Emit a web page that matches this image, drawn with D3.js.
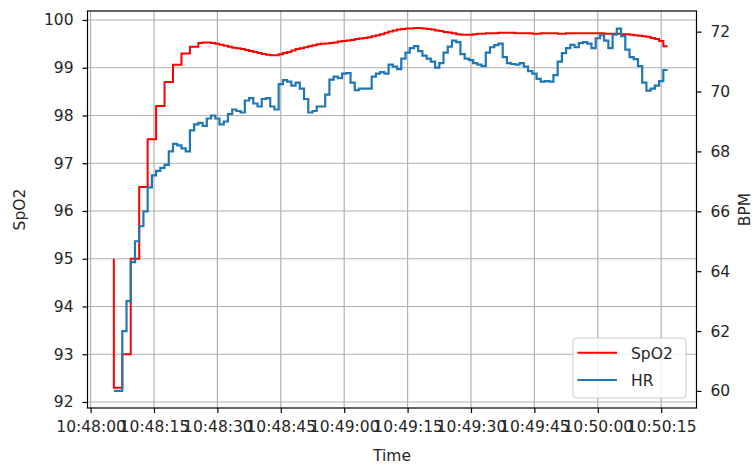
<!DOCTYPE html>
<html>
<head>
<meta charset="utf-8">
<script src="https://cdn.jsdelivr.net/npm/d3@7"></script>
<style>
  body { margin: 0; background: #fff; }
  svg { display: block; }
  text { font-family: "DejaVu Sans", sans-serif; }
</style>
</head>
<body>
<svg id="chart" width="755" height="466"></svg>
<script>
// Sample times, seconds after 10:48:00
const seconds = [
  5.5, 6.5, 7.5, 8.5, 9.5, 10.5, 11.5, 12.5, 13.5, 14.5,
  15.5, 16.5, 17.5, 18.5, 19.5, 20.5, 21.5, 22.5, 23.5, 24.5,
  25.5, 26.5, 27.5, 28.5, 29.5, 30.5, 31.5, 32.5, 33.5, 34.5,
  35.5, 36.5, 37.5, 38.5, 39.5, 40.5, 41.5, 42.5, 43.5, 44.5,
  45.5, 46.5, 47.5, 48.5, 49.5, 50.5, 51.5, 52.5, 53.5, 54.5,
  55.5, 56.5, 57.5, 58.5, 59.5, 60.5, 61.5, 62.5, 63.5, 64.5,
  65.5, 66.5, 67.5, 68.5, 69.5, 70.5, 71.5, 72.5, 73.5, 74.5,
  75.5, 76.5, 77.5, 78.5, 79.5, 80.5, 81.5, 82.5, 83.5, 84.5,
  85.5, 86.5, 87.5, 88.5, 89.5, 90.5, 91.5, 92.5, 93.5, 94.5,
  95.5, 96.5, 97.5, 98.5, 99.5, 100.5, 101.5, 102.5, 103.5, 104.5,
  105.5, 106.5, 107.5, 108.5, 109.5, 110.5, 111.5, 112.5, 113.5, 114.5,
  115.5, 116.5, 117.5, 118.5, 119.5, 120.5, 121.5, 122.5, 123.5, 124.5,
  125.5, 126.5, 127.5, 128.5, 129.5, 130.5, 131.5, 132.5, 133.5, 134.5,
  135.5, 136.5
];

// Oxygen saturation (%)
const spo2 = [
  95, 92.3, 92.3, 93, 93, 95, 95, 96.5, 96.5, 97.5,
  97.5, 98.2, 98.2, 98.7, 98.7, 99.06, 99.06, 99.3, 99.3, 99.44,
  99.44, 99.52, 99.53, 99.53, 99.52, 99.5, 99.48, 99.46, 99.44, 99.42,
  99.41, 99.39, 99.37, 99.35, 99.33, 99.31, 99.29, 99.27, 99.26, 99.26,
  99.28, 99.31, 99.33, 99.36, 99.39, 99.41, 99.43, 99.45, 99.47, 99.49,
  99.5, 99.51, 99.52, 99.53, 99.55, 99.56, 99.57, 99.58, 99.6, 99.61,
  99.62, 99.64, 99.66, 99.68, 99.7, 99.73, 99.76, 99.78, 99.8, 99.81,
  99.82, 99.82, 99.83, 99.83, 99.82, 99.81, 99.8, 99.78, 99.77, 99.75,
  99.74, 99.72, 99.7, 99.69, 99.69, 99.69, 99.7, 99.71, 99.71, 99.72,
  99.72, 99.72, 99.73, 99.73, 99.73, 99.73, 99.72, 99.72, 99.72, 99.72,
  99.71, 99.71, 99.72, 99.72, 99.72, 99.72, 99.71, 99.71, 99.72, 99.72,
  99.72, 99.72, 99.72, 99.72, 99.72, 99.72, 99.72, 99.71, 99.71, 99.71,
  99.71, 99.7, 99.7, 99.69, 99.68, 99.67, 99.66, 99.65, 99.62, 99.6,
  99.56, 99.45
];

// Heart rate (BPM)
const hr = [
  60, 60, 60, 62, 63, 64.3, 65, 65.5, 66, 66.8,
  67.2, 67.35, 67.45, 67.55, 68.0, 68.25, 68.2, 68.1, 68.0, 68.7,
  68.9, 68.95, 68.85, 69.1, 69.2, 69.1, 68.9, 69.0, 69.25, 69.4,
  69.35, 69.3, 69.7, 69.78, 69.6, 69.5, 69.75, 69.78, 69.5, 69.4,
  70.25, 70.38, 70.33, 70.2, 70.3, 70.1, 69.75, 69.3, 69.35, 69.5,
  69.5, 69.9, 70.4, 70.5, 70.45, 70.6, 70.62, 70.3, 70.05, 70.1,
  70.1, 70.1, 70.5, 70.6, 70.65, 70.6, 70.9, 70.83, 70.75, 71.1,
  71.3, 71.45, 71.52, 71.35, 71.2, 71.1, 71.0, 70.8, 70.95, 71.3,
  71.5, 71.7, 71.65, 71.25, 71.1, 71.05, 70.95, 70.9, 70.85, 71.3,
  71.48, 71.55, 71.6, 71.15, 70.95, 70.92, 70.9, 70.95, 70.83, 70.68,
  70.6, 70.42, 70.33, 70.35, 70.33, 70.55, 71.0, 71.28, 71.45, 71.56,
  71.48, 71.62, 71.65, 71.6, 71.45, 71.78, 71.88, 71.7, 71.45, 71.9,
  72.1, 71.85, 71.4, 71.15, 71.08, 70.85, 70.3, 70.03, 70.1, 70.2,
  70.35, 70.72
];

const timeTicks = ["10:48:00", "10:48:15", "10:48:30", "10:48:45", "10:49:00",
                   "10:49:15", "10:49:30", "10:49:45", "10:50:00", "10:50:15"];
const spo2Ticks = [92, 93, 94, 95, 96, 97, 98, 99, 100];
const hrTicks = [60, 62, 64, 66, 68, 70, 72];
const seriesNames = ["SpO2", "HR"];
const seriesColors = ["#ff0000", "#1f77b4"];

const parseTime = d3.timeParse("%H:%M:%S");
const start = parseTime(timeTicks[0]);
const at = s => new Date(start.getTime() + s * 1000);

const P = { left: 87.5, right: 696.5, top: 11, bottom: 408 };
const FONT = 15.5;
const INK = "#262626";

const svg = d3.select("#chart");

const x = d3.scaleTime().domain([at(-0.73), at(143.35)]).range([P.left, P.right]);
const yL = d3.scaleLinear().domain([91.874, 100.188]).range([P.bottom, P.top]);
const yR = d3.scaleLinear().domain([59.43, 72.69]).range([P.bottom, P.top]);

svg.append("defs").append("clipPath").attr("id", "plot")
  .append("rect").attr("x", P.left).attr("y", P.top)
  .attr("width", P.right - P.left).attr("height", P.bottom - P.top);

// grid
const grid = svg.append("g").attr("stroke", "#b0b0b0").attr("stroke-width", 1.2)
  .attr("clip-path", "url(#plot)");
grid.selectAll("line.v").data(timeTicks.map(parseTime)).join("line")
  .attr("class", "v")
  .attr("x1", d => x(d)).attr("x2", d => x(d))
  .attr("y1", P.top).attr("y2", P.bottom);
grid.selectAll("line.h").data(spo2Ticks).join("line")
  .attr("class", "h")
  .attr("x1", P.left).attr("x2", P.right)
  .attr("y1", d => yL(d)).attr("y2", d => yL(d));

// series
const rows = seconds.map((s, i) => ({ t: at(s), spo2: spo2[i], hr: hr[i] }));
const lines = svg.append("g").attr("clip-path", "url(#plot)").attr("fill", "none");
lines.append("path")
  .attr("d", d3.line().curve(d3.curveStepBefore).x(d => x(d.t)).y(d => yL(d.spo2))(rows))
  .attr("stroke", seriesColors[0]).attr("stroke-width", 2);
lines.append("path")
  .attr("d", d3.line().curve(d3.curveStepBefore).x(d => x(d.t)).y(d => yR(d.hr))(rows))
  .attr("stroke", seriesColors[1]).attr("stroke-width", 2.2);

// axes
function styleAxis(g) {
  g.select(".domain").remove();
  g.selectAll(".tick line").attr("stroke", "#000").attr("stroke-width", 1.2);
  g.selectAll(".tick text").attr("fill", INK).style("font-size", FONT + "px")
    .style("font-family", '"DejaVu Sans", sans-serif');
}
svg.append("g").attr("transform", `translate(0,${P.bottom})`)
  .call(d3.axisBottom(x).tickValues(timeTicks.map(parseTime))
    .tickFormat(d3.timeFormat("%H:%M:%S")).tickSize(5).tickPadding(8))
  .call(styleAxis);
svg.append("g").attr("transform", `translate(${P.left},0)`)
  .call(d3.axisLeft(yL).tickValues(spo2Ticks).tickFormat(d3.format("d")).tickSize(5).tickPadding(9))
  .call(styleAxis);
svg.append("g").attr("transform", `translate(${P.right},0)`)
  .call(d3.axisRight(yR).tickValues(hrTicks).tickFormat(d3.format("d")).tickSize(5).tickPadding(9))
  .call(styleAxis);

// frame
svg.append("rect").attr("x", P.left).attr("y", P.top)
  .attr("width", P.right - P.left).attr("height", P.bottom - P.top)
  .attr("fill", "none").attr("stroke", "#000").attr("stroke-width", 1.2);

// axis titles
svg.append("text").attr("x", (P.left + P.right) / 2).attr("y", 461)
  .attr("text-anchor", "middle").attr("fill", INK).style("font-size", FONT + "px").text("Time");
svg.append("text").attr("transform", `translate(25,${(P.top + P.bottom) / 2}) rotate(-90)`)
  .attr("text-anchor", "middle").attr("fill", INK).style("font-size", FONT + "px").text("SpO2");
svg.append("text").attr("transform", `translate(749.5,${(P.top + P.bottom) / 2}) rotate(-90)`)
  .attr("text-anchor", "middle").attr("fill", INK).style("font-size", FONT + "px").text("BPM");

// legend
const lg = svg.append("g").attr("transform", "translate(573,338)");
lg.append("rect").attr("width", 113).attr("height", 60).attr("rx", 3)
  .attr("fill", "#fff").attr("fill-opacity", 0.8).attr("stroke", "#cccccc").attr("stroke-width", 1);
seriesNames.forEach((name, i) => {
  const cy = 14.7 + i * 27.3;
  lg.append("line").attr("x1", 4.5).attr("x2", 44).attr("y1", cy).attr("y2", cy)
    .attr("stroke", seriesColors[i]).attr("stroke-width", i === 0 ? 2 : 2.2);
  lg.append("text").attr("x", 58).attr("y", cy + 5.8).attr("fill", INK)
    .style("font-size", FONT + "px").text(name);
});
</script>
</body>
</html>
